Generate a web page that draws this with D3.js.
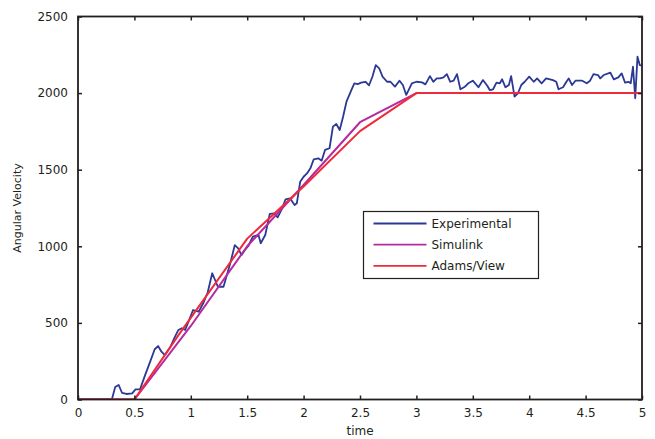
<!DOCTYPE html>
<html>
<head>
<meta charset="utf-8">
<title>Angular Velocity</title>
<script src="https://d3js.org/d3.v7.min.js"></script>
<style>
  body { margin: 0; background: #fff; }
  text { font-family: "DejaVu Sans", sans-serif; fill: #231f20; }
</style>
</head>
<body>
<div id="chart"></div>
<script>
// experimental: time, angular velocity
var expT = [0, 0.30, 0.33, 0.36, 0.39, 0.43, 0.48, 0.51, 0.55, 0.59, 0.64, 0.68, 0.71, 0.74, 0.77, 0.82, 0.86, 0.89, 0.92, 0.95, 0.98,
  1.02, 1.07, 1.11, 1.15, 1.19, 1.24, 1.29, 1.35, 1.39, 1.42, 1.45, 1.48, 1.51, 1.55, 1.60, 1.62, 1.66, 1.70, 1.74, 1.77, 1.81, 1.84, 1.88, 1.92, 1.94, 1.97,
  2.00, 2.03, 2.06, 2.09, 2.13, 2.16, 2.19, 2.23, 2.26, 2.29, 2.32, 2.35, 2.38, 2.43, 2.45, 2.48, 2.51, 2.55, 2.58, 2.61, 2.64, 2.67, 2.70, 2.74, 2.77, 2.81, 2.85, 2.88, 2.91, 2.96,
  3.00, 3.05, 3.08, 3.12, 3.15, 3.18, 3.21, 3.24, 3.27, 3.30, 3.33, 3.36, 3.39, 3.43, 3.46, 3.50, 3.55, 3.59, 3.63, 3.65, 3.68, 3.71, 3.74, 3.76, 3.79, 3.82, 3.84, 3.87, 3.90, 3.93, 3.96,
  4.00, 4.04, 4.07, 4.11, 4.15, 4.21, 4.24, 4.26, 4.30, 4.33, 4.35, 4.38, 4.41, 4.47, 4.51, 4.54, 4.57, 4.61, 4.63, 4.66, 4.72, 4.75, 4.79, 4.82, 4.85, 4.88, 4.90, 4.92, 4.94, 4.96, 4.98, 5.00];
var expV = [0, 0, 82, 95, 44, 36, 40, 66, 66, 149, 247, 328, 349, 312, 290, 345, 410, 454, 465, 454, 508,
  584, 573, 628, 700, 824, 736, 736, 889, 1008, 987, 943, 976, 1002, 1063, 1074, 1020, 1074, 1211, 1215, 1189, 1248, 1307, 1313, 1270, 1281, 1422,
  1454, 1476, 1509, 1568, 1574, 1559, 1629, 1640, 1781, 1798, 1759, 1846, 1944, 2031, 2064, 2059, 2068, 2074, 2051, 2107, 2183, 2162, 2107, 2074, 2074, 2042, 2081, 2053, 1988, 2064,
  2074, 2070, 2057, 2111, 2074, 2096, 2096, 2103, 2124, 2074, 2081, 2124, 2025, 2042, 2064, 2081, 2038, 2085, 2046, 2020, 2025, 2068, 2064, 2090, 2038, 2053, 2111, 1977, 1999, 2053, 2074,
  2107, 2074, 2096, 2064, 2096, 2085, 2074, 2025, 2038, 2074, 2096, 2053, 2081, 2081, 2064, 2081, 2124, 2118, 2096, 2118, 2133, 2090, 2103, 2129, 2068, 2074, 2064, 2172, 1966, 2238, 2183, 2180];

var simT = [0, 0.5, 1.0, 1.5, 2.0, 2.5, 3.0, 5.0];
var simV = [0, 0, 480, 1000, 1400, 1810, 2000, 2000];

var adamsT = [0, 0.5, 0.9, 1.5, 2.0, 2.5, 3.0, 5.0];
var adamsV = [0, 0, 430, 1050, 1390, 1752, 2000, 2000];

var xTicks = [0, 0.5, 1, 1.5, 2, 2.5, 3, 3.5, 4, 4.5, 5];
var yTicks = [0, 500, 1000, 1500, 2000, 2500];

var seriesNames = ["Experimental", "Simulink", "Adams/View"];
var seriesColors = ["#2b3894", "#b52a9e", "#ee2a3b"];

var W = 655, H = 439;
var x = d3.scaleLinear().domain([0, 5]).range([78, 642]);
var y = d3.scaleLinear().domain([0, 2500]).range([399.5, 16.5]);

var svg = d3.select("#chart").append("svg").attr("width", W).attr("height", H);

function toPts(ts, vs) { return ts.map(function (t, i) { return [t, vs[i]]; }); }
var line = d3.line().x(function (d) { return x(d[0]); }).y(function (d) { return y(d[1]); });

var series = [toPts(expT, expV), toPts(simT, simV), toPts(adamsT, adamsV)];

svg.append("clipPath").attr("id", "clip").append("rect")
  .attr("x", 78).attr("y", 16.5).attr("width", 564).attr("height", 383);

var g = svg.append("g").attr("clip-path", "url(#clip)");
series.forEach(function (pts, i) {
  g.append("path").datum(pts)
    .attr("d", line)
    .attr("fill", "none")
    .attr("stroke", seriesColors[i])
    .attr("stroke-width", i == 0 ? 1.8 : 2)
    .attr("stroke-linejoin", "round");
});

// axes, ticks pointing in
var tk = 4;
svg.append("g").attr("transform", "translate(0,399.5)")
  .call(d3.axisBottom(x).tickValues(xTicks).tickSizeInner(-tk).tickSizeOuter(0).tickPadding(9).tickFormat(d3.format("")));
svg.append("g").attr("transform", "translate(0,16.5)")
  .call(d3.axisTop(x).tickValues(xTicks).tickSizeInner(-tk).tickSizeOuter(0).tickFormat(""));
svg.append("g").attr("transform", "translate(78,0)")
  .call(d3.axisLeft(y).tickValues(yTicks).tickSizeInner(-tk).tickSizeOuter(0).tickPadding(10).tickFormat(d3.format("")));
svg.append("g").attr("transform", "translate(642,0)")
  .call(d3.axisRight(y).tickValues(yTicks).tickSizeInner(-tk).tickSizeOuter(0).tickFormat(""));

svg.selectAll(".domain").remove();
svg.selectAll(".tick line").attr("stroke", "#231f20").attr("stroke-width", 1.5);
svg.selectAll(".tick text").style("font-size", "12px").attr("fill", "#231f20");

svg.append("rect")
  .attr("x", 78).attr("y", 16.5).attr("width", 564).attr("height", 383)
  .attr("fill", "none").attr("stroke", "#231f20").attr("stroke-width", 1.8);

svg.append("text").attr("x", 360).attr("y", 435).attr("text-anchor", "middle")
  .style("font-size", "12px").text("time");
svg.append("text").attr("transform", "translate(21,208) rotate(-90)").attr("text-anchor", "middle")
  .style("font-size", "11px").text("Angular Velocity");

// legend
var lg = svg.append("g").attr("transform", "translate(363.5,211.5)");
lg.append("rect").attr("width", 175).attr("height", 67)
  .attr("fill", "#fff").attr("stroke", "#231f20").attr("stroke-width", 1.2);
seriesNames.forEach(function (name, i) {
  var yy = 12 + i * 21.2;
  lg.append("line").attr("x1", 10).attr("x2", 63).attr("y1", yy).attr("y2", yy)
    .attr("stroke", seriesColors[i]).attr("stroke-width", 1.8);
  lg.append("text").attr("x", 68).attr("y", yy + 4.5).style("font-size", "12px").text(name);
});
</script>
</body>
</html>
